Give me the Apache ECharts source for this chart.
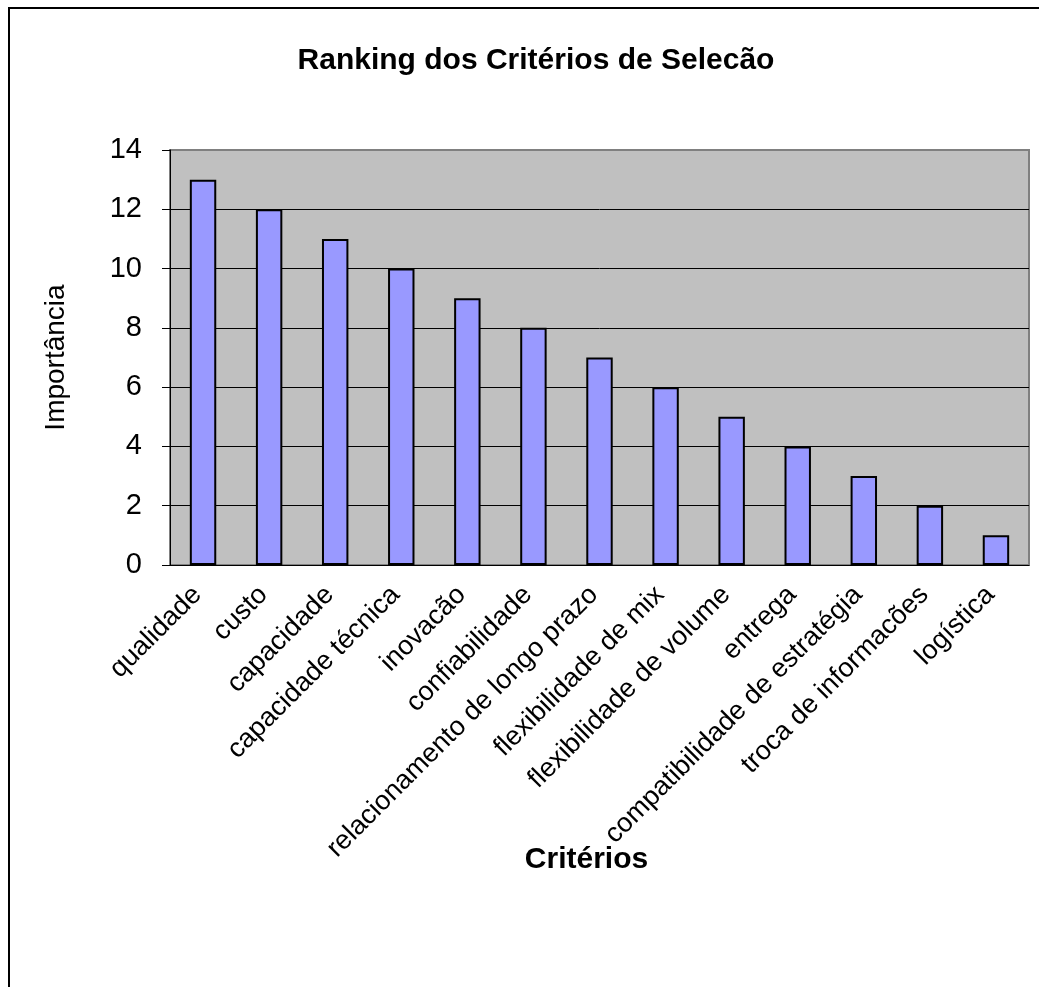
<!DOCTYPE html>
<html>
<head>
<meta charset="utf-8">
<script src="https://cdn.jsdelivr.net/npm/echarts@6/dist/echarts.min.js"></script>
<style>
  html, body { margin: 0; padding: 0; background: #fff; }
  #chart { width: 1039px; height: 987px; }
</style>
</head>
<body>
<div id="chart"></div>
<script>
const categories = [
  'qualidade', 'custo', 'capacidade', 'capacidade técnica', 'inovacão',
  'confiabilidade', 'relacionamento de longo prazo', 'flexibilidade de mix',
  'flexibilidade de volume', 'entrega', 'compatibilidade de estratégia',
  'troca de informacões', 'logística'
];
const importancia = [13, 12, 11, 10, 9, 8, 7, 6, 5, 4, 3, 2, 1];
const yTicks = [0, 2, 4, 6, 8, 10, 12, 14];

const font = 'Liberation Sans, Arial, sans-serif';
const chart = echarts.init(document.getElementById('chart'));

const option = {
  animation: false,
  backgroundColor: '#fff',
  title: {
    text: 'Ranking dos Critérios de Selecão',
    left: 531,
    top: 41,
    textAlign: 'center',
    textStyle: { fontFamily: font, fontSize: 30, fontWeight: 'bold', color: '#000' }
  },
  graphic: [
    {
      type: 'rect',
      shape: { x: 9, y: 8, width: 1040, height: 1000 },
      style: { fill: 'none', stroke: '#000', lineWidth: 2 },
      z: 100
    }
  ],
  grid: {
    left: 170,
    right: 10,
    top: 150,
    bottom: 422,
    show: true,
    backgroundColor: '#C0C0C0',
    borderColor: '#808080',
    borderWidth: 2
  },
  xAxis: {
    type: 'category',
    data: categories,
    name: 'Critérios',
    nameLocation: 'middle',
    nameGap: 280,
    nameMoveOverlap: false,
    nameTextStyle: {
      fontFamily: font, fontSize: 30, fontWeight: 'bold', color: '#000',
      padding: [0, 26, 0, 0]
    },
    axisLine: { lineStyle: { color: '#000', width: 1 } },
    axisTick: { length: 9, lineStyle: { color: '#000' } },
    axisLabel: {
      rotate: 45,
      interval: 0,
      margin: 20,
      padding: [0, 8, 0, 0],
      fontFamily: font,
      fontSize: 27,
      color: '#000'
    }
  },
  yAxis: {
    type: 'value',
    min: yTicks[0],
    max: yTicks[yTicks.length - 1],
    interval: 2,
    name: 'Importância',
    nameLocation: 'middle',
    nameGap: 100,
    nameTextStyle: { fontFamily: font, fontSize: 28, color: '#000' },
    axisLine: { show: true, lineStyle: { color: '#000', width: 1 } },
    axisTick: { show: true, length: 8, lineStyle: { color: '#000' } },
    axisLabel: { fontFamily: font, fontSize: 29, color: '#000', margin: 28 },
    splitLine: { showMaxLine: false, lineStyle: { color: '#000', width: 1 } }
  },
  series: [
    {
      type: 'bar',
      data: importancia,
      barCategoryGap: '60%',
      itemStyle: { color: '#9999FF', borderColor: '#000', borderWidth: 2 }
    }
  ]
};

chart.setOption(option);
window.addEventListener('resize', chart.resize);
</script>
</body>
</html>
